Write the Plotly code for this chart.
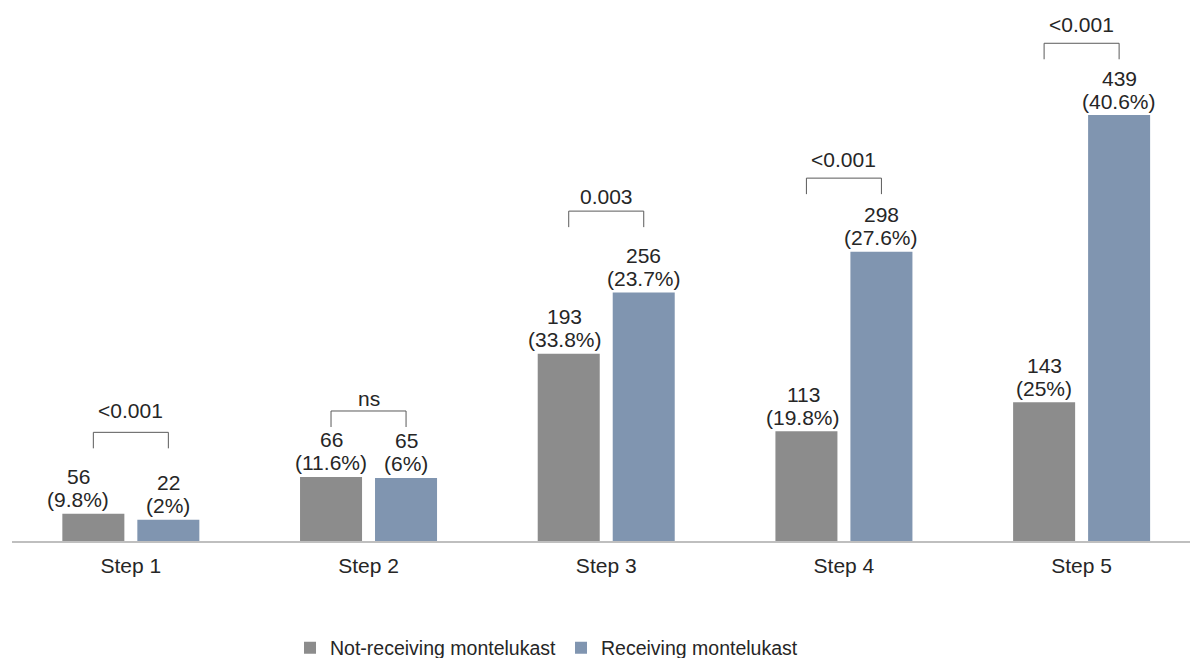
import plotly.graph_objects as go

# ---- data ----
steps = ["Step 1", "Step 2", "Step 3", "Step 4", "Step 5"]
not_receiving_n = [56, 66, 193, 113, 143]
not_receiving_pct = ["9.8%", "11.6%", "33.8%", "19.8%", "25%"]
receiving_n = [22, 65, 256, 298, 439]
receiving_pct = ["2%", "6%", "23.7%", "27.6%", "40.6%"]
# heights of the bars as drawn in the reference (Step 1 grey bar is drawn short)
not_receiving_drawn = [28, 66, 193, 113, 143]
receiving_drawn = [22, 65, 256, 298, 439]
p_values = ["<0.001", "ns", "0.003", "<0.001", "<0.001"]

# ---- layout constants (positions, in data units of the y axis) ----
bracket_top = [112, 134, 340, 374, 513]
bracket_leg = 16.5
pvalue_y = [135, 147, 355, 393, 532]
label_xshift_not = [-15, 0, -4, -3, 0]

GREY = "rgb(140,140,140)"
BLUE = "rgb(128,149,176)"
TEXT = "rgb(38,38,38)"
FONT = "Liberation Sans, Arial, Helvetica, sans-serif"
FS = 21
OFF = 0.1578  # half distance between bar centres, in category units

xs = list(range(len(steps)))

fig = go.Figure()
fig.add_trace(go.Bar(x=xs, y=not_receiving_drawn, name="Not-receiving montelukast",
                     marker=dict(color=GREY, line=dict(width=0))))
fig.add_trace(go.Bar(x=xs, y=receiving_drawn, name="Receiving montelukast",
                     marker=dict(color=BLUE, line=dict(width=0))))

annotations = []
for i in xs:
    for dx, h, n, p, xsft in ((-OFF, not_receiving_drawn[i], not_receiving_n[i], not_receiving_pct[i], label_xshift_not[i]),
                               (OFF, receiving_drawn[i], receiving_n[i], receiving_pct[i], 0)):
        annotations.append(dict(x=i + dx, y=h, xref="x", yref="y", text=f"({p})", showarrow=False,
                                yanchor="middle", yshift=14, xshift=xsft,
                                font=dict(size=FS, color=TEXT, family=FONT)))
        annotations.append(dict(x=i + dx, y=h, xref="x", yref="y", text=str(n), showarrow=False,
                                yanchor="middle", yshift=37, xshift=xsft,
                                font=dict(size=FS, color=TEXT, family=FONT)))
    annotations.append(dict(x=i, y=pvalue_y[i], xref="x", yref="y", text=p_values[i], showarrow=False,
                            yanchor="middle", font=dict(size=FS, color=TEXT, family=FONT)))

shapes = []
for i in xs:
    t = bracket_top[i]
    shapes.append(dict(type="path", xref="x", yref="y",
                       path=f"M {i-OFF},{t-bracket_leg} L {i-OFF},{t} L {i+OFF},{t} L {i+OFF},{t-bracket_leg}",
                       line=dict(color="rgb(90,90,90)", width=1)))

fig.update_layout(
    width=1190, height=658,
    margin=dict(l=12, r=0, t=0, b=117, autoexpand=False),
    paper_bgcolor="white", plot_bgcolor="white",
    barmode="group", bargap=0.369, bargroupgap=0.173,
    font=dict(family=FONT, size=FS, color=TEXT),
    xaxis=dict(range=[-0.5, 4.456], tickvals=xs, ticktext=steps, showgrid=False, zeroline=False,
               showline=True, linecolor="rgb(191,191,191)", linewidth=1.5, ticks="",
               ticklabelstandoff=5, tickfont=dict(size=FS, color=TEXT, family=FONT)),
    yaxis=dict(range=[0, 557.6], visible=False, showgrid=False, zeroline=False),
    showlegend=True,
    legend=dict(orientation="h", x=0.2360, xanchor="left", y=-0.198, yanchor="middle",
                font=dict(size=19.5, color=TEXT, family=FONT), entrywidth=226, entrywidthmode="pixels",
                bgcolor="rgba(0,0,0,0)", traceorder="normal"),
    annotations=annotations, shapes=shapes,
)

fig.write_html("out.html")
